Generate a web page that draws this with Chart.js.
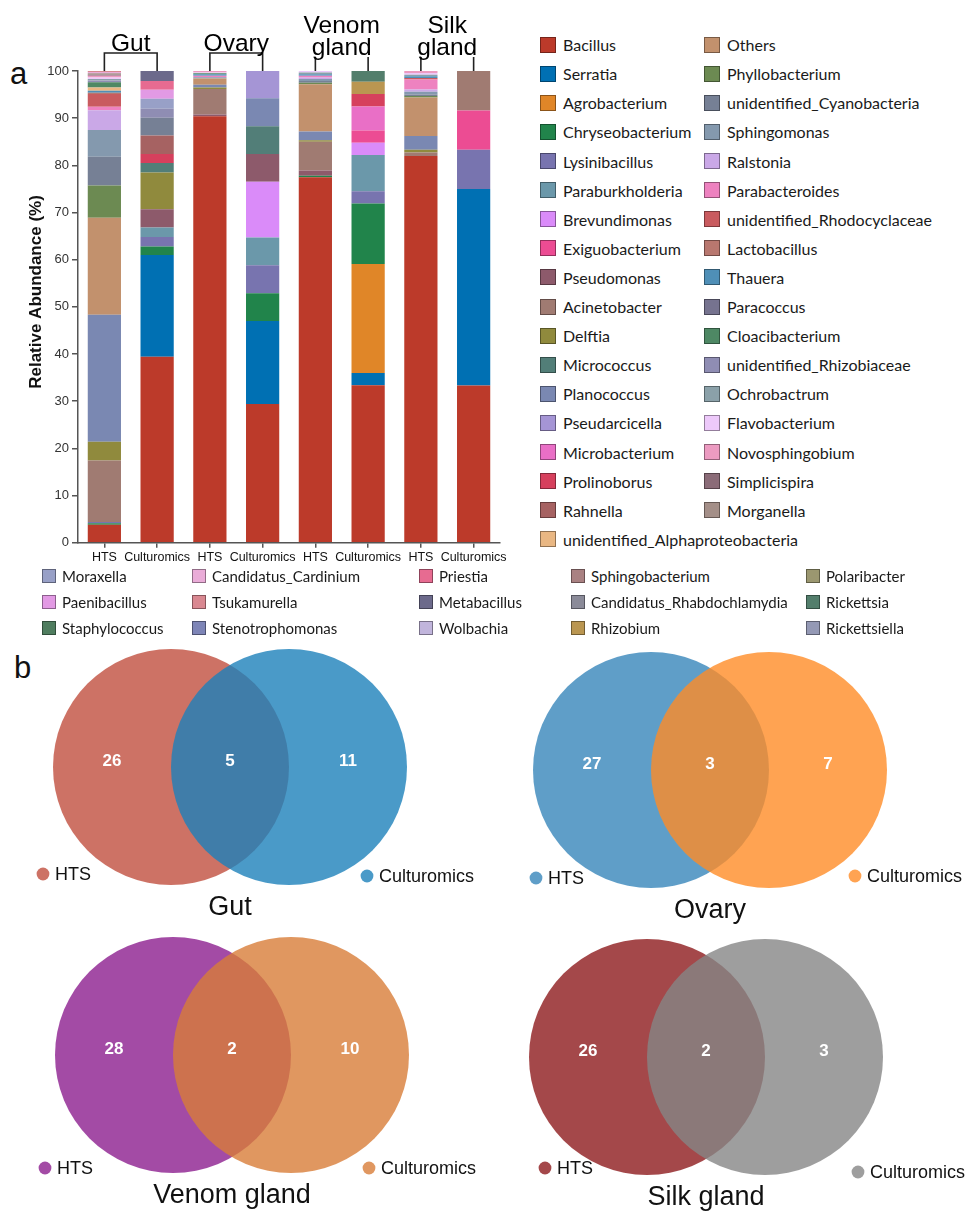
<!DOCTYPE html>
<html>
<head>
<meta charset="utf-8">
<script src="https://cdn.jsdelivr.net/npm/chart.js@4.4.1/dist/chart.umd.min.js"></script>
<style>
  body { margin: 0; background: #fff; }
  #page { position: relative; width: 968px; height: 1212px; overflow: hidden; font-family: "Liberation Sans", Arial, sans-serif; }
  canvas { position: absolute; }
  .letter { position: absolute; font-size: 31px; color: #111; line-height: 1; }
  .key { position: absolute; display: flex; align-items: center; white-space: nowrap; font-family: Lato, "Noto Sans", sans-serif; color: #1a1a1a; }
  .key span.sw { display: inline-block; box-sizing: border-box; }
</style>
</head>
<body>
<div id="page">
  <div class="letter" style="left:10px;top:58px;">a</div>
  <div class="letter" style="left:14px;top:652px;">b</div>
  <canvas id="bars" width="520" height="565" style="left:0;top:0;"></canvas>
  <canvas id="venn0" width="490" height="300"></canvas>
  <canvas id="venn1" width="490" height="300"></canvas>
  <canvas id="venn2" width="490" height="300"></canvas>
  <canvas id="venn3" width="490" height="300"></canvas>
</div>
<script>
// ---------- stacked bars: relative abundance of genera ----------
const samples = ['HTS', 'Culturomics', 'HTS', 'Culturomics', 'HTS', 'Culturomics', 'HTS', 'Culturomics'];
const organs = ['Gut', 'Ovary', 'Venom gland', 'Silk gland'];

const genera = [
  'Bacillus', 'Serratia', 'Agrobacterium', 'Chryseobacterium', 'Lysinibacillus', 'Paraburkholderia',
  'Brevundimonas', 'Exiguobacterium', 'Pseudomonas', 'Acinetobacter', 'Delftia', 'Micrococcus',
  'Planococcus', 'Pseudarcicella', 'Microbacterium', 'Prolinoborus', 'Rahnella', 'unidentified_Alphaproteobacteria',
  'Others', 'Phyllobacterium', 'unidentified_Cyanobacteria', 'Sphingomonas', 'Ralstonia', 'Parabacteroides',
  'unidentified_Rhodocyclaceae', 'Lactobacillus', 'Thauera', 'Paracoccus', 'Cloacibacterium', 'unidentified_Rhizobiaceae',
  'Ochrobactrum', 'Flavobacterium', 'Novosphingobium', 'Simplicispira', 'Morganella',
  'Moraxella', 'Paenibacillus', 'Staphylococcus', 'Candidatus_Cardinium', 'Tsukamurella', 'Stenotrophomonas',
  'Priestia', 'Metabacillus', 'Wolbachia', 'Sphingobacterium', 'Candidatus_Rhabdochlamydia', 'Rhizobium',
  'Polaribacter', 'Rickettsia', 'Rickettsiella'
];
const generaColors = [
  '#BC3A2A', '#0070B3', '#E08628', '#21844B', '#7874AF', '#6B98AA',
  '#DA8BF9', '#EC4C93', '#8D5A6B', '#A07B72', '#908A3D', '#527E78',
  '#7A88B2', '#A595D5', '#E96FC6', '#D6405D', '#A66262', '#E9B783',
  '#C2916D', '#6C8A52', '#768095', '#8499AE', '#CAA8E7', '#EE82C0',
  '#C95B5F', '#B8776F', '#4F8FB7', '#76738F', '#4E8864', '#8F8DB3',
  '#8BA1A9', '#EDC9FA', '#EC9BC1', '#8B6C78', '#A48F88',
  '#98A0C7', '#E29AE4', '#4F7D5F', '#EAACD8', '#D98891', '#7E85B7',
  '#E76B91', '#6C6A8B', '#C1B5DC', '#A98182', '#8B8B99', '#BA9651',
  '#9B9770', '#537E6C', '#9499B5'
];

// abundance (%) per sample
const gutHTS = [
  ['Bacillus', 3.8], ['Chryseobacterium', 0.3], ['Lysinibacillus', 0.3], ['Acinetobacter', 13.0], ['Delftia', 4.0],
  ['Planococcus', 26.9], ['Others', 20.6], ['Phyllobacterium', 6.8], ['unidentified_Cyanobacteria', 6.1],
  ['Sphingomonas', 5.7], ['Ralstonia', 4.2], ['Parabacteroides', 0.7], ['unidentified_Rhodocyclaceae', 2.7],
  ['Lactobacillus', 0.3], ['Thauera', 0.4], ['unidentified_Alphaproteobacteria', 0.7], ['Cloacibacterium', 1.1],
  ['unidentified_Rhizobiaceae', 0.4], ['Ochrobactrum', 0.3], ['Flavobacterium', 0.3], ['Novosphingobium', 0.4],
  ['Simplicispira', 0.2], ['Morganella', 0.3], ['Candidatus_Cardinium', 0.3], ['Tsukamurella', 0.2]
];
const gutCult = [
  ['Bacillus', 39.4], ['Serratia', 21.6], ['Chryseobacterium', 1.8], ['Lysinibacillus', 2.0], ['Paraburkholderia', 2.0],
  ['Pseudomonas', 3.9], ['Delftia', 7.8], ['Micrococcus', 2.0], ['Prolinoborus', 1.9], ['Rahnella', 3.9],
  ['unidentified_Cyanobacteria', 3.8], ['unidentified_Rhizobiaceae', 1.9], ['Moraxella', 2.1], ['Paenibacillus', 1.9],
  ['Priestia', 1.9], ['Metabacillus', 2.1]
];
const ovaryHTS = [
  ['Bacillus', 90.4], ['Pseudomonas', 0.4], ['Acinetobacter', 5.4], ['Delftia', 0.3], ['Planococcus', 0.6],
  ['Others', 1.3], ['Sphingomonas', 0.3], ['Parabacteroides', 0.3], ['Thauera', 0.3], ['Cloacibacterium', 0.2],
  ['Flavobacterium', 0.2], ['Novosphingobium', 0.3]
];
const ovaryCult = [
  ['Bacillus', 29.4], ['Serratia', 17.6], ['Chryseobacterium', 5.9], ['Lysinibacillus', 5.9], ['Paraburkholderia', 5.9],
  ['Brevundimonas', 11.8], ['Pseudomonas', 5.9], ['Micrococcus', 5.9], ['Planococcus', 5.9], ['Pseudarcicella', 5.8]
];
const venomHTS = [
  ['Bacillus', 77.5], ['Chryseobacterium', 0.3], ['Pseudomonas', 1.1], ['Acinetobacter', 6.1], ['Delftia', 0.3],
  ['Planococcus', 1.9], ['Others', 10.0], ['Phyllobacterium', 0.3], ['unidentified_Cyanobacteria', 0.4],
  ['Sphingomonas', 0.4], ['Ralstonia', 0.3], ['Parabacteroides', 0.4], ['Thauera', 0.3], ['Ochrobactrum', 0.4],
  ['Flavobacterium', 0.3]
];
const venomCult = [
  ['Bacillus', 33.4], ['Serratia', 2.6], ['Agrobacterium', 23.1], ['Chryseobacterium', 12.8], ['Lysinibacillus', 2.6],
  ['Paraburkholderia', 7.7], ['Brevundimonas', 2.6], ['Exiguobacterium', 2.6], ['Microbacterium', 5.1],
  ['Prolinoborus', 2.6], ['Rhizobium', 2.6], ['Rickettsia', 2.3]
];
const silkHTS = [
  ['Bacillus', 82.0], ['Acinetobacter', 0.7], ['Delftia', 0.6], ['Planococcus', 2.9], ['Others', 8.2],
  ['Phyllobacterium', 0.3], ['unidentified_Cyanobacteria', 0.3], ['Sphingomonas', 0.6], ['Ralstonia', 0.5],
  ['Parabacteroides', 2.1], ['unidentified_Rhodocyclaceae', 0.3], ['Thauera', 0.4], ['Ochrobactrum', 0.3],
  ['Flavobacterium', 0.4], ['Novosphingobium', 0.4]
];
const silkCult = [
  ['Bacillus', 33.3], ['Serratia', 41.7], ['Lysinibacillus', 8.3], ['Exiguobacterium', 8.3], ['Acinetobacter', 8.4]
];
const sampleData = [gutHTS, gutCult, ovaryHTS, ovaryCult, venomHTS, venomCult, silkHTS, silkCult];

// ---------- venn diagrams: shared genera ----------
const vennTitles = ['Gut', 'Ovary', 'Venom gland', 'Silk gland'];
const vennSets = ['HTS', 'Culturomics'];
const vennCounts = [[26, 5, 11], [27, 3, 7], [28, 2, 10], [26, 2, 3]]; // HTS only, shared, Culturomics only
const vennColors = [
  ['rgba(193,79,63,0.8)', 'rgba(29,129,186,0.8)'],
  ['rgba(55,134,186,0.8)', 'rgba(255,140,39,0.8)'],
  ['rgba(140,30,143,0.8)', 'rgba(216,125,56,0.8)'],
  ['rgba(141,26,29,0.8)', 'rgba(134,134,134,0.8)']
];

const FONT = '"Liberation Sans", Arial, sans-serif';

function darker(hex, f) {
  const n = parseInt(hex.slice(1), 16);
  const r = Math.round(((n >> 16) & 255) * f), g = Math.round(((n >> 8) & 255) * f), b = Math.round((n & 255) * f);
  return `rgb(${r},${g},${b})`;
}

const datasets = genera.map((name, i) => ({
  label: name,
  data: sampleData.map(s => {
    const hit = s.find(p => p[0] === name);
    return hit ? hit[1] : 0;
  }),
  backgroundColor: generaColors[i],
  borderWidth: 0,
  // the alphaproteobacteria band sits just above Thauera in the stacks
  order: name === 'unidentified_Alphaproteobacteria' ? genera.indexOf('Thauera') + 0.5 : i
}));

// organ names with brackets over each pair of bars, plus the y title
const organLabels = {
  id: 'organLabels',
  afterDraw(chart) {
    const { ctx, chartArea, scales: { x } } = chart;
    ctx.save();
    organs.forEach((name, i) => {
      const x1 = x.getPixelForValue(2 * i), x2 = x.getPixelForValue(2 * i + 1);
      const top = chartArea.top, yb = top - 18, xm = (x1 + x2) / 2;
      ctx.strokeStyle = '#222';
      ctx.lineWidth = 1.6;
      ctx.beginPath();
      ctx.moveTo(x1, top); ctx.lineTo(x1, yb); ctx.lineTo(x2, yb); ctx.lineTo(x2, top);
      ctx.stroke();
      ctx.font = '24.5px ' + FONT;
      ctx.fillStyle = '#000';
      ctx.textAlign = 'center';
      ctx.textBaseline = 'alphabetic';
      const words = name.split(' ');
      if (words.length === 1) {
        ctx.fillText(name, xm, yb - 2);
      } else {
        const w = ctx.measureText(words[1]).width;
        ctx.fillStyle = '#fff';
        ctx.fillRect(xm - w / 2 - 1, yb - 17, w + 2, 21);
        ctx.fillStyle = '#000';
        ctx.fillText(words[0], xm, yb - 20);
        ctx.fillText(words[1], xm, yb + 2);
      }
    });
    ctx.translate(36, 292);
    ctx.rotate(-Math.PI / 2);
    ctx.font = 'bold 17px ' + FONT;
    ctx.fillStyle = '#111';
    ctx.textAlign = 'center';
    ctx.textBaseline = 'middle';
    ctx.fillText('Relative Abundance (%)', 0, 0);
    ctx.restore();
  }
};

new Chart(document.getElementById('bars'), {
  type: 'bar',
  data: { labels: samples, datasets },
  options: {
    responsive: false,
    animation: false,
    events: [],
    layout: { padding: { top: 71, right: 20, left: 0, bottom: 0 } },
    datasets: { bar: { categoryPercentage: 1, barPercentage: 0.63 } },
    plugins: { legend: { display: false }, tooltip: { enabled: false } },
    scales: {
      x: {
        stacked: true,
        afterFit(s) { s.height = 22.3; },
        grid: { drawOnChartArea: false, offset: false, tickLength: 5, color: '#555', lineWidth: 1.5 },
        border: { color: '#555', width: 1.5 },
        ticks: { autoSkip: false, maxRotation: 0, padding: 2, color: '#111', font: { family: FONT, size: 12.5 } }
      },
      y: {
        stacked: true,
        min: 0, max: 100,
        afterFit(s) { s.width = 78; },
        grid: { drawOnChartArea: false, tickLength: 6, color: '#555', lineWidth: 1.5 },
        border: { color: '#555', width: 1.5 },
        ticks: { stepSize: 10, padding: 3, color: '#333', font: { family: FONT, size: 13 } }
      }
    }
  },
  plugins: [organLabels]
});

// ---------- legends built from the genus list ----------
const page = document.getElementById('page');
function addKey(name, color, left, cy, box, textGap, size) {
  const el = document.createElement('div');
  el.className = 'key';
  el.style.left = left + 'px';
  el.style.top = (cy - 12) + 'px';
  el.style.height = '24px';
  el.style.fontSize = size + 'px';
  const sw = document.createElement('span');
  sw.className = 'sw';
  sw.style.width = box + 'px';
  sw.style.height = box + 'px';
  sw.style.background = color;
  sw.style.border = '1px solid ' + darker(color, 0.62);
  sw.style.marginRight = textGap + 'px';
  el.appendChild(sw);
  el.appendChild(document.createTextNode(name));
  page.appendChild(el);
}
// right block: two columns
genera.slice(0, 35).forEach((name, i) => {
  const col = i < 18 ? 0 : 1, row = col ? i - 18 : i;
  addKey(name, generaColors[i], col ? 704 : 540, 44.6 + row * 29.1, 16, 7, 16);
});
// bottom block: five columns of three
const bottomCols = [42, 192, 419, 571, 806];
const bottomRows = [575.5, 602, 627.5];
genera.slice(35).forEach((name, k) => {
  const i = k + 35;
  addKey(name, generaColors[i], bottomCols[Math.floor(k / 3)], bottomRows[k % 3], 14, 6, 15);
});

// ---------- venn panels ----------
const R = 118;                       // circle radius in px, one scale unit
const vennPos = [[0, 642], [480, 645], [2, 930], [476, 932]];
// legend dot offsets from the left circle centre: [HTS dx, dy, Culturomics dx, dy]
const vennKeys = [[-128, 107, 196, 109], [-115, 108, 204, 106], [-128, 113, 196, 113], [-102, 111, 211, 115]];

function vennText(idx) {
  return {
    id: 'vennText' + idx,
    afterDatasetsDraw(chart) {
      const { ctx, scales: { x, y } } = chart;
      const cy = y.getPixelForValue(0);
      const counts = vennCounts[idx];
      ctx.save();
      ctx.fillStyle = '#fff';
      ctx.font = 'bold 17px ' + FONT;
      ctx.textAlign = 'center';
      ctx.textBaseline = 'middle';
      [-1, 0, 1].forEach((u, k) => ctx.fillText(String(counts[k]), x.getPixelForValue(u), cy - 6));
      const cx0 = x.getPixelForValue(-0.5);
      const k = vennKeys[idx];
      ctx.font = '18px ' + FONT;
      ctx.textAlign = 'left';
      [[k[0], k[1]], [k[2], k[3]]].forEach((p, j) => {
        ctx.fillStyle = vennColors[idx][j];
        ctx.beginPath();
        ctx.arc(cx0 + p[0], cy + p[1], 6.4, 0, Math.PI * 2);
        ctx.fill();
        ctx.fillStyle = '#111';
        ctx.fillText(vennSets[j], cx0 + p[0] + 12, cy + p[1] + 1);
      });
      ctx.font = '27px ' + FONT;
      ctx.textAlign = 'center';
      ctx.textBaseline = 'alphabetic';
      ctx.fillText(vennTitles[idx], x.getPixelForValue(0), cy + 148);
      ctx.restore();
    }
  };
}

vennTitles.forEach((t, idx) => {
  const cv = document.getElementById('venn' + idx);
  cv.style.left = vennPos[idx][0] + 'px';
  cv.style.top = vennPos[idx][1] + 'px';
  const xmin = -0.5 - 171 / R, ymax = 125 / R;
  new Chart(cv, {
    type: 'scatter',
    data: {
      datasets: [{
        data: [{ x: -0.5, y: 0 }, { x: 0.5, y: 0 }],
        backgroundColor: vennColors[idx],
        borderWidth: 0,
        pointRadius: c => c.chart.scales.x.getPixelForValue(1) - c.chart.scales.x.getPixelForValue(0),
        clip: false
      }]
    },
    options: {
      responsive: false,
      animation: false,
      events: [],
      layout: { padding: 0 },
      plugins: { legend: { display: false }, tooltip: { enabled: false } },
      scales: {
        x: { display: false, min: xmin, max: xmin + cv.width / R },
        y: { display: false, min: ymax - cv.height / R, max: ymax }
      }
    },
    plugins: [vennText(idx)]
  });
});
</script>
</body>
</html>
